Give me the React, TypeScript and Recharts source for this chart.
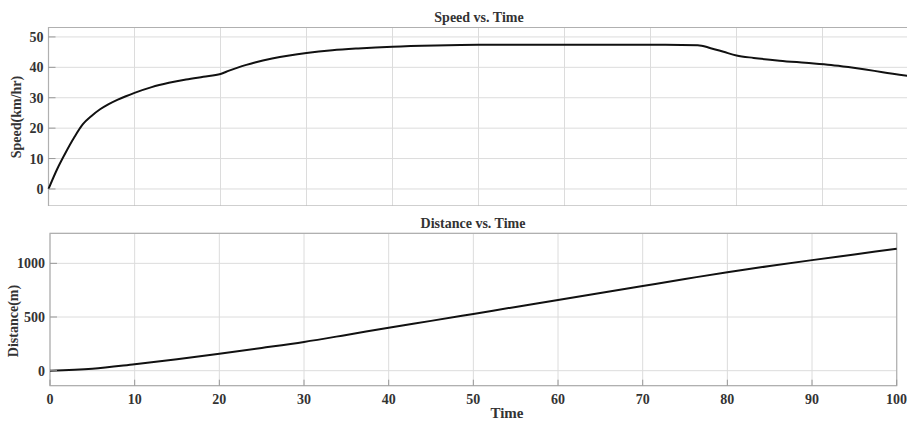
import React from "react";
import {
  LineChart,
  Line,
  XAxis,
  YAxis,
  CartesianGrid,
  ReferenceArea,
} from "recharts";

// time (s) and speed (km/hr)
const speedTime = [
  0, 1, 2, 3, 4, 5, 6, 7, 8, 9, 10, 12, 14, 16, 18, 20, 21, 22, 23, 24, 26, 28, 30, 33, 36, 40, 45, 50,
  60, 70, 75.5, 77, 78.5, 80, 82, 85, 88, 91, 93, 95, 97, 100,
];
const speedValues = [
  0, 6.5, 12, 17, 21.3, 24, 26.2, 27.9, 29.3, 30.5, 31.6, 33.5, 34.9, 36, 36.9, 37.8, 38.9, 39.9, 40.8,
  41.6, 42.9, 43.9, 44.7, 45.6, 46.2, 46.8, 47.2, 47.4, 47.4, 47.4, 47.3, 46.3, 45.1, 43.9, 43.1, 42.2,
  41.5, 40.8, 40.1, 39.3, 38.4, 37.2,
];

// time (s) and distance (m)
const distTime = [0, 5, 10, 15, 20, 25, 30, 35, 40, 45, 50, 55, 60, 65, 70, 75, 80, 85, 90, 95, 100];
const distValues = [
  0, 18, 60, 106, 158, 212, 268, 333, 400, 464, 529, 594, 659, 724, 789, 854, 918, 975, 1030, 1083, 1136,
];

const timeTicks = [0, 10, 20, 30, 40, 50, 60, 70, 80, 90, 100];
const speedTicks = [0, 10, 20, 30, 40, 50];
const distTicks = [0, 500, 1000];

const speedData = speedTime.map((t, i) => ({ t, v: speedValues[i] }));
const distData = distTime.map((t, i) => ({ t, d: distValues[i] }));

const font = "'Liberation Serif', 'Times New Roman', serif";
const tickStyle = { fontSize: 14, fontWeight: 700, fill: "#333", fontFamily: font };
const gridColor = "#dcdcdc";
const boxColor = "#b0b0b0";
const tickColor = "#999";
const lineColor = "#111";

// tick marks without labels
const noLabel = () => <g />;

const textStyle: React.CSSProperties = {
  position: "absolute",
  fontFamily: font,
  fontWeight: 700,
  fontSize: 14,
  color: "#333",
  whiteSpace: "nowrap",
  lineHeight: "16px",
};

export default function App() {
  return (
    <div
      style={{
        position: "absolute",
        left: 0,
        top: 0,
        width: 907,
        height: 421,
        overflow: "hidden",
        background: "#fff",
        fontFamily: font,
      }}
    >
      {/* Speed vs. Time */}
      <div style={{ position: "absolute", left: 0, top: 0 }}>
        <LineChart
          width={910}
          height={206}
          data={speedData}
          margin={{ top: 27.5, right: 1.5, bottom: 0, left: 0 }}
          style={{ fontFamily: font }}
        >
          <CartesianGrid stroke={gridColor} strokeWidth={1} />
          <XAxis
            dataKey="t"
            type="number"
            domain={[0, 100]}
            ticks={timeTicks}
            height={0}
            tick={noLabel}
            axisLine={false}
            tickLine={{ stroke: tickColor }}
            tickSize={-6}
          />
          <XAxis
            xAxisId="top"
            orientation="top"
            dataKey="t"
            type="number"
            domain={[0, 100]}
            ticks={timeTicks}
            height={0}
            tick={noLabel}
            axisLine={false}
            tickLine={{ stroke: tickColor }}
            tickSize={-6}
          />
          <YAxis
            type="number"
            domain={[-5.6, 53.1]}
            ticks={speedTicks}
            width={48.5}
            allowDataOverflow
            tick={tickStyle}
            axisLine={false}
            tickLine={{ stroke: tickColor }}
            tickSize={-7}
            tickMargin={12}
          />
          <YAxis
            yAxisId="right"
            orientation="right"
            type="number"
            domain={[-5.6, 53.1]}
            ticks={speedTicks}
            width={0}
            allowDataOverflow
            tick={noLabel}
            axisLine={false}
            tickLine={{ stroke: tickColor }}
            tickSize={-7}
          />
          <ReferenceArea
            x1={0}
            x2={100}
            y1={-5.6}
            y2={53.1}
            fill="none"
            stroke={boxColor}
            strokeWidth={1.2}
          />
          <Line
            type="monotone"
            dataKey="v"
            stroke={lineColor}
            strokeWidth={2}
            dot={false}
            isAnimationActive={false}
          />
        </LineChart>
      </div>

      {/* Distance vs. Time */}
      <div style={{ position: "absolute", left: 0, top: 210 }}>
        <LineChart
          width={907}
          height={211}
          data={distData}
          margin={{ top: 23.3, right: 10.3, bottom: 0, left: 0 }}
          style={{ fontFamily: font }}
        >
          <CartesianGrid stroke={gridColor} strokeWidth={1} />
          <XAxis
            dataKey="t"
            type="number"
            domain={[0, 100]}
            ticks={timeTicks}
            height={35.3}
            tick={tickStyle}
            axisLine={false}
            tickLine={{ stroke: tickColor }}
            tickSize={-6}
            tickMargin={14}
          />
          <XAxis
            xAxisId="top"
            orientation="top"
            dataKey="t"
            type="number"
            domain={[0, 100]}
            ticks={timeTicks}
            height={0}
            tick={noLabel}
            axisLine={false}
            tickLine={{ stroke: tickColor }}
            tickSize={-6}
          />
          <YAxis
            type="number"
            domain={[-140, 1280]}
            ticks={distTicks}
            width={50}
            allowDataOverflow
            tick={tickStyle}
            axisLine={false}
            tickLine={{ stroke: tickColor }}
            tickSize={-7}
            tickMargin={12}
          />
          <YAxis
            yAxisId="right"
            orientation="right"
            type="number"
            domain={[-140, 1280]}
            ticks={distTicks}
            width={0}
            allowDataOverflow
            tick={noLabel}
            axisLine={false}
            tickLine={{ stroke: tickColor }}
            tickSize={-7}
          />
          <ReferenceArea
            x1={0}
            x2={100}
            y1={-140}
            y2={1280}
            fill="none"
            stroke={boxColor}
            strokeWidth={1.2}
          />
          <Line
            type="monotone"
            dataKey="d"
            stroke={lineColor}
            strokeWidth={2}
            dot={false}
            isAnimationActive={false}
          />
        </LineChart>
      </div>

      <div style={{ ...textStyle, left: 479, top: 10, transform: "translateX(-50%)" }}>
        Speed vs. Time
      </div>
      <div style={{ ...textStyle, left: 473, top: 216, transform: "translateX(-50%)" }}>
        Distance vs. Time
      </div>
      <div style={{ ...textStyle, left: 507, top: 405, fontSize: 15, transform: "translateX(-50%)" }}>
        Time
      </div>
      <div
        style={{
          ...textStyle,
          left: 17,
          top: 117,
          transform: "translate(-50%, -50%) rotate(-90deg)",
        }}
      >
        Speed(km/hr)
      </div>
      <div
        style={{
          ...textStyle,
          left: 14,
          top: 321,
          transform: "translate(-50%, -50%) rotate(-90deg)",
        }}
      >
        Distance(m)
      </div>
    </div>
  );
}
